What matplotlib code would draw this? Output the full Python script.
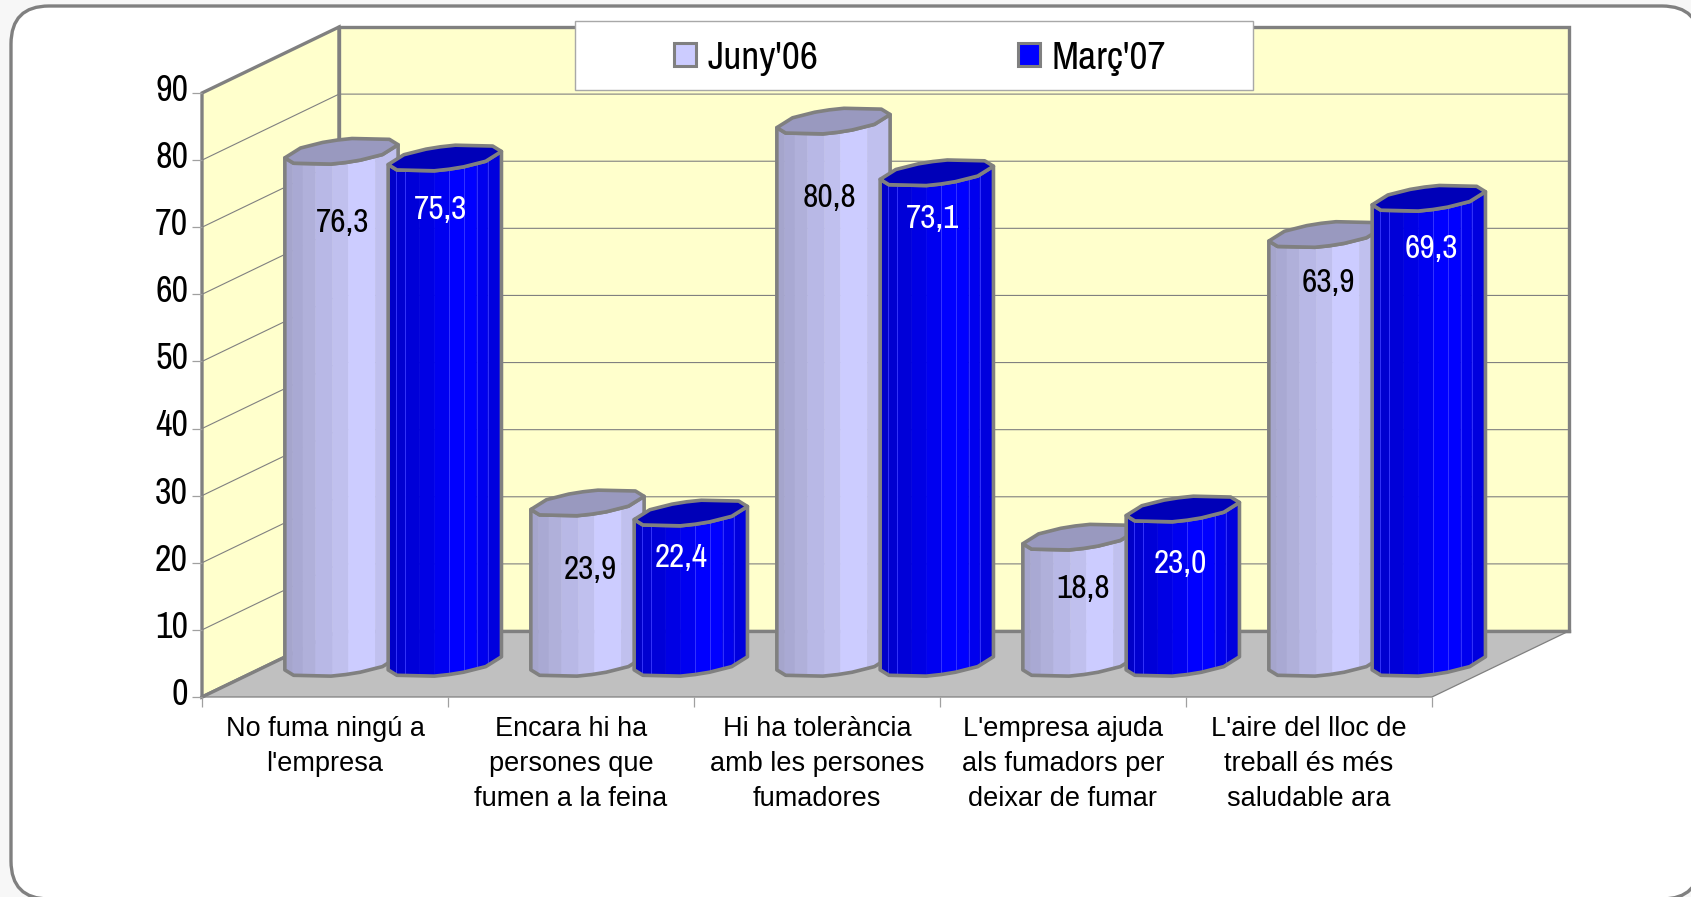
"""
Smoking at work, June'06 against March'07, drawn as an Excel style 3D cylinder chart
"""

import numpy as np
import matplotlib
matplotlib.use('Agg')
import matplotlib.pyplot as plt

from matplotlib.patches import FancyBboxPatch, Patch, Rectangle
from matplotlib.transforms import ScaledTranslation

#------------------------------------------------------------------------------
# data

categories = ["No fuma ningú a\nl'empresa",
              "Encara hi ha\npersones que\nfumen a la feina",
              "Hi ha tolerància\namb les persones\nfumadores",
              "L'empresa ajuda\nals fumadors per\ndeixar de fumar",
              "L'aire del lloc de\ntreball és més\nsaludable ara"]

series_names = ["Juny'06", "Març'07"]

june06 = [76.3, 23.9, 80.8, 18.8, 63.9]
march07 = [75.3, 22.4, 73.1, 23.0, 69.3]

yticks = np.arange(0, 100, 10)

#------------------------------------------------------------------------------
# styles

W, H = 1691, 897
GREY = '#808080'
WALL = '#ffffcc'
NARROW = ['Archivo Narrow', 'Liberation Sans Narrow', 'Liberation Sans']

# shading bands across a cylinder, edges as a fraction of its width
light_edges = [0, .07, .16, .27, .42, .56, .80, 1]
light_faces = ['#a5a5cc', '#a9a9d3', '#b0b0da', '#b8b8e6',
               '#c0c0ee', '#ccccff', '#c0c0ee']

dark_edges = [0, .07, .15, .28, .41, .54, .67, .78, .88, 1]
dark_faces = ['#0000c8', '#0000d0', '#0000d8', '#0000e4', '#0000f0',
              '#0000ff', '#0000ff', '#0000ee', '#0000de']
dark_seams = [.07, .15, .54, .67, .78, .88]

# depth of the 3D box, in category and value units
DX = 137. / 246.
DY = 66. / 6.711

# cylinder geometry, same units (depth as a fraction of the box)
RX = 0.2
RD = 0.205
DC = 0.51

# vertices round the cylinder rim, degrees, uneven like the coarse 3D of the original
rim_deg = np.array([209, 242, 289, 304, 319, 346, 389,
                    422, 469, 484, 499, 526, 569])
NFRONT = 7

# label offsets from the cylinder top, pixels (placed by hand in the original)
light_drop = [72, 67, 77, 52, 49]
dark_drop = [52, 45, 46, 55, 51]
light_shift = [1, 3, -4, 4, 3]
dark_shift = [-4, -10, -4, -2, 3]

#------------------------------------------------------------------------------

def project(c, v, d):
    return c + DX*d, v + DY*d

def ring(c, v):
    t = np.radians(rim_deg)
    return project(c + RX*np.cos(t), v, DC + RD*np.sin(t))

def cylinder(ax, c, v, edges, faces, topcolor, seams=()):
    xr, yr = ring(c, 0.)
    xf, yf = xr[:NFRONT], yr[:NFRONT]
    x0, x1 = xf[0], xf[-1]

    for k, col in enumerate(faces):
        xs = np.linspace(x0 + edges[k]*(x1 - x0), x0 + edges[k+1]*(x1 - x0), 10)
        ys = np.interp(xs, xf, yf)
        ax.fill(np.concatenate([xs, xs[::-1]]), np.concatenate([ys, ys[::-1] + v]),
                facecolor=col, edgecolor=col, lw=0.4, zorder=1, clip_on=False)

    for e in seams:
        xs = x0 + e*(x1 - x0)
        ys = np.interp(xs, xf, yf)
        ax.plot([xs, xs], [ys, ys + v], color='#3a3aff', lw=0.6, zorder=1,
                clip_on=False)

    # outline of the visible body, then the lid
    ox = np.concatenate([xf, xf[::-1]])
    oy = np.concatenate([yf, yf[::-1] + v])
    ax.fill(ox, oy, facecolor='none', edgecolor=GREY, lw=2.6,
            joinstyle='round', zorder=1, clip_on=False)
    ax.fill(xr, yr + v, facecolor=topcolor, edgecolor=GREY, lw=2.6,
            joinstyle='round', zorder=1, clip_on=False)

def value_label(ax, x, y, value, dx, drop, color):
    ax.annotate(f"{value:.1f}".replace('.', ','), (x, y),
                xytext=(dx*0.72, -drop*0.72), textcoords='offset points',
                ha='center', va='center', fontsize=24, family=NARROW,
                color=color, zorder=5, annotation_clip=False)

#------------------------------------------------------------------------------

fig = plt.figure(figsize=[W/100., H/100.], dpi=100, facecolor='#f7f7f7')

# rounded frame behind everything, runs off the right and bottom edges
bg = fig.add_axes([0, 0, 1, 1], zorder=0)
bg.set_xlim(0, W)
bg.set_ylim(H, 0)
bg.axis('off')
bg.add_patch(FancyBboxPatch((11, 6), 1689, 893,
                            boxstyle='round,pad=0,rounding_size=38',
                            facecolor='white', edgecolor=GREY, lw=2.4))

# the axes are the front plane of the 3D box
ax = fig.add_axes([202./W, (H - 697.)/H, 1230./W, 604./H], zorder=1)
ax.patch.set_visible(False)
ax.set_xlim(0, len(categories))
ax.set_ylim(0, yticks[-1])

for s in ax.spines.values():
    s.set_visible(False)

#------------------------------------------------------------------------------
# walls and floor

nc = len(categories)
vmax = yticks[-1]

px, py = project(np.array([0, 0, 0, 0]), np.array([0, 0, vmax, vmax]),
                 np.array([0, 1, 1, 0]))
ax.fill(px, py, facecolor=WALL, edgecolor=GREY, lw=2.4, zorder=0.1, clip_on=False)

px, py = project(np.array([0, nc, nc, 0]), np.array([0, 0, vmax, vmax]),
                 np.array([1, 1, 1, 1]))
ax.fill(px, py, facecolor=WALL, edgecolor=GREY, lw=2.4, zorder=0.1, clip_on=False)

for v in yticks[1:-1]:
    px, py = project(np.array([0, 0, nc]), np.array([v, v, v]),
                     np.array([0, 1, 1]))
    ax.plot(px, py, color=GREY, lw=0.8, zorder=0.2, clip_on=False)

px, py = project(np.array([0, nc, nc, 0]), np.zeros(4), np.array([0, 0, 1, 1]))
ax.fill(px, py, facecolor='#c0c0c0', edgecolor='none', zorder=0.3, clip_on=False)
ax.plot(px[[0, 1, 2]], py[[0, 1, 2]], color=GREY, lw=0.9, zorder=0.4, clip_on=False)
ax.plot(px[[3, 0]], py[[3, 0]], color=GREY, lw=2.4, zorder=0.4, clip_on=False)
ax.plot(px[[3, 2]], py[[3, 2]], color=GREY, lw=2.4, zorder=0.4, clip_on=False)

#------------------------------------------------------------------------------
# cylinders and labels

for i in range(nc):
    c1 = i + 0.283
    c2 = i + 0.703

    cylinder(ax, c1, june06[i], light_edges, light_faces, '#9999bf')
    cylinder(ax, c2, march07[i], dark_edges, dark_faces, '#0000b8', dark_seams)

    x, y = project(c1, june06[i], DC)
    value_label(ax, x, y, june06[i], light_shift[i], light_drop[i], 'black')

    x, y = project(c2, march07[i], DC)
    value_label(ax, x, y, march07[i], dark_shift[i], dark_drop[i], 'white')

#------------------------------------------------------------------------------
# axes ticks

ax.set_yticks(yticks)
ax.set_yticklabels([str(v) for v in yticks], fontsize=26, family=NARROW)
ax.tick_params(axis='y', length=7, width=0.9, color='#a0a0a0', pad=3)

# the numbers sit a little above their ticks
up = ScaledTranslation(0, 4./72., fig.dpi_scale_trans)
for lab in ax.get_yticklabels():
    lab.set_transform(lab.get_transform() + up)

ax.set_xticks(np.arange(nc + 1))
ax.set_xticklabels([])
ax.tick_params(axis='x', which='major', length=7, width=0.9, color='#a0a0a0')

ax.set_xticks(np.arange(nc) + 0.5, minor=True)
ax.set_xticklabels(categories, minor=True, fontsize=19.5,
                   family='Liberation Sans', linespacing=1.44)
ax.tick_params(axis='x', which='minor', length=0, pad=14)

#------------------------------------------------------------------------------
# legend

fig.add_artist(Rectangle((575./W, 1 - 90./H), 678./W, 69./H,
                         transform=fig.transFigure, facecolor='white',
                         edgecolor='#a8a8a8', lw=1, zorder=3))

handles = [Patch(facecolor='#ccccff', edgecolor=GREY, lw=2.2),
           Patch(facecolor='#0000ff', edgecolor=GREY, lw=2.2)]

leg = fig.legend(handles, series_names, loc='center',
                 bbox_to_anchor=(920./W, 1 - 58./H), ncol=2, frameon=False,
                 borderaxespad=0, borderpad=0, columnspacing=5.05,
                 handlelength=0.55, handleheight=0.55, handletextpad=0.28,
                 prop={'family': NARROW, 'size': 28.5})
leg.set_zorder(4)

#------------------------------------------------------------------------------

fig.savefig('out.png', dpi=100, facecolor=fig.get_facecolor())
